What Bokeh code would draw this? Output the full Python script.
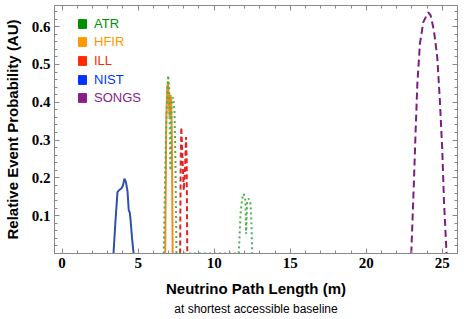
from bokeh.plotting import figure
from bokeh.models import Range1d, LinearAxis, Legend, LegendItem, Title, FixedTicker
from bokeh.embed import file_html
from bokeh.resources import INLINE

# ---- data ----
nist_x = [3.38, 3.5, 3.64, 3.75, 3.9, 4.0, 4.1, 4.2, 4.3, 4.38, 4.45, 4.5, 4.6, 4.7]
nist_y = [0.0, 0.08, 0.162, 0.168, 0.172, 0.18, 0.198, 0.188, 0.165, 0.115, 0.108, 0.09, 0.04, 0.0]

hfir_x = [6.78, 6.85, 6.92, 6.97, 7.02, 7.07, 7.12, 7.17, 7.22, 7.27]
hfir_y = [0.0, 0.35, 0.44, 0.455, 0.40, 0.36, 0.42, 0.41, 0.30, 0.0]

atr_x = [6.68, 6.76, 6.84, 6.90, 6.97, 7.04, 7.12, 7.2, 7.3, 7.39, 7.45, 7.52,
         11.62, 11.73, 11.84, 11.95, 12.06, 12.1, 12.17, 12.28, 12.39, 12.45, 12.5]
atr_y = [0.0, 0.17, 0.334, 0.42, 0.471, 0.44, 0.22, 0.40, 0.413, 0.378, 0.246, 0.0,
         0.0, 0.105, 0.145, 0.158, 0.14, 0.052, 0.14, 0.145, 0.131, 0.078, 0.0]

ill_x = [7.76, 7.80, 7.84, 7.92, 8.0, 8.08, 8.15, 8.19, 8.23]
ill_y = [0.0, 0.25, 0.334, 0.25, 0.167, 0.22, 0.308, 0.25, 0.0]

songs_x = [22.96, 23.13, 23.24, 23.36, 23.53, 23.75, 24.08, 24.23, 24.45, 24.67, 24.84, 25.0, 25.11, 25.28]
songs_y = [0.0, 0.184, 0.317, 0.449, 0.555, 0.612, 0.638, 0.630, 0.590, 0.519, 0.405, 0.272, 0.14, 0.0]

names = ["ATR", "HFIR", "ILL", "NIST", "SONGS"]
swatch_colors = ["#008F00", "#FF9900", "#FF2A00", "#0033FF", "#8B1C8B"]

x_major = [0, 5, 10, 15, 20, 25]
x_minor = [i for i in range(0, 27)]
y_major = [0.1, 0.2, 0.3, 0.4, 0.5, 0.6]
y_minor = [round(0.02 * i, 2) for i in range(0, 33)]

p = figure(frame_width=403, frame_height=248, output_backend="svg", toolbar_location=None,
           x_range=Range1d(-0.5, 26.0), y_range=Range1d(0.0, 0.656),
           min_border_left=54, min_border_right=7, min_border_top=5, min_border_bottom=66)
p.background_fill_color = "white"
p.border_fill_color = "white"
p.outline_line_color = "#888888"
p.grid.visible = False

p.line(nist_x, nist_y, line_color="#3050B0", line_width=2)
p.line(songs_x, songs_y, line_color="#7B1F7E", line_width=2, line_dash="7 4")
p.line(ill_x, ill_y, line_color="#E62222", line_width=2, line_dash="5 3")
p.line(hfir_x, hfir_y, line_color="#F28C1E", line_width=2)
p.line(atr_x, atr_y, line_color="#4DB04D", line_width=2, line_dash="2 3")

def style_axis(ax, show_labels):
    ax.axis_line_color = "#888888"
    ax.major_tick_line_color = "#888888"
    ax.minor_tick_line_color = "#888888"
    ax.major_tick_in = 5
    ax.major_tick_out = 0
    ax.minor_tick_in = 3
    ax.minor_tick_out = 0
    if show_labels:
        ax.major_label_text_font = "Liberation Serif"
        ax.major_label_text_font_style = "bold"
        ax.major_label_text_font_size = "15px"
        ax.major_label_text_color = "black"
        ax.major_label_standoff = 4
    else:
        ax.major_label_text_font_size = "0px"
        ax.major_label_standoff = 0

p.xaxis.ticker = FixedTicker(ticks=x_major, minor_ticks=x_minor)
p.yaxis.ticker = FixedTicker(ticks=y_major, minor_ticks=y_minor)
style_axis(p.xaxis[0], True)
style_axis(p.yaxis[0], True)
p.xaxis.axis_label = "Neutrino Path Length (m)"
p.yaxis.axis_label = "Relative Event Probability (AU)"
for ax in (p.xaxis[0], p.yaxis[0]):
    ax.axis_label_text_font = "Liberation Sans"
    ax.axis_label_text_font_style = "bold"
    ax.axis_label_text_font_size = "15px"
    ax.axis_label_text_color = "black"
p.xaxis.axis_label_standoff = 9
p.yaxis.axis_label_standoff = 8

top = LinearAxis(ticker=FixedTicker(ticks=x_major, minor_ticks=x_minor))
right = LinearAxis(ticker=FixedTicker(ticks=y_major, minor_ticks=y_minor))
style_axis(top, False)
style_axis(right, False)
p.add_layout(top, "above")
p.add_layout(right, "right")

sub = Title(text="at shortest accessible baseline", align="center",
            text_font="Liberation Sans", text_font_style="normal",
            text_font_size="12px", text_color="black", standoff=0)
p.add_layout(sub, "below")

for i, (nm, c) in enumerate(zip(names, swatch_colors)):
    r = p.quad(left=[-10], right=[-9], top=[-1], bottom=[-2], fill_color=c, line_color=c)
    leg = Legend(items=[LegendItem(label=nm, renderers=[r])],
                 location=(23, 222.5 - 18.7 * i),
                 padding=0, margin=0, spacing=0,
                 border_line_color=None, background_fill_alpha=0,
                 glyph_width=10, glyph_height=11, label_height=11,
                 label_standoff=7,
                 label_text_color=c, label_text_font="Liberation Sans",
                 label_text_font_size="13px")
    p.add_layout(leg)

open("out.html", "w").write(file_html(p, INLINE))
